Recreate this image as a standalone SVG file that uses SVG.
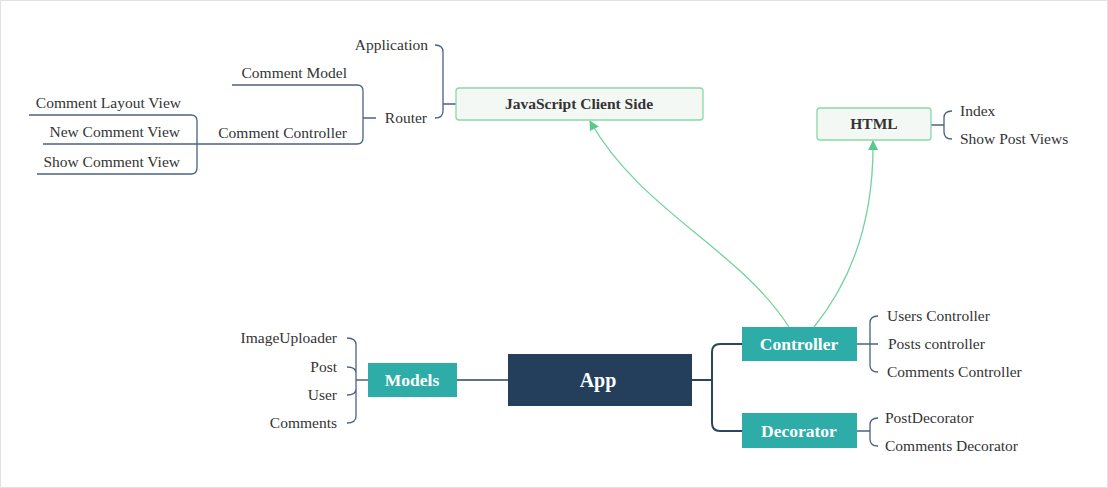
<svg xmlns="http://www.w3.org/2000/svg" width="1108" height="488" viewBox="0 0 1108 488">
<defs>
<style>
.t{font-family:"Liberation Serif","Times New Roman",serif;font-size:15.5px;fill:#333}
.r{text-anchor:end}
.nb{font-family:"Liberation Serif","Times New Roman",serif;font-weight:bold;text-anchor:middle}
.light{fill:#f3f8f4;stroke:#8ad8a8;stroke-width:1.3}
.teal{fill:#2eaca7}
.br{fill:none;stroke:#4b6382;stroke-width:1.3}
.main{fill:none;stroke:#2a4560;stroke-width:2}
.rel{fill:none;stroke:#72d39c;stroke-width:1.3}
</style>
<marker id="ah" markerWidth="10" markerHeight="10" viewBox="0 0 10 10" refX="9" refY="5" orient="auto" markerUnits="userSpaceOnUse">
<path d="M0,0 L10,5 L0,10 Z" fill="#5cc98c"/>
</marker>
</defs>
<rect x="0.5" y="0.5" width="1107" height="487" fill="#fff" stroke="#e2e2e2"/>

<g id="connectors">
<!-- JS client side bracket -->
<path class="br" d="M435,45 Q443,45 443,52 L443,111 Q443,118 435,118 M443,104 L456,104"/>
<!-- Router bracket -->
<path class="br" d="M232,85 L357,85 Q363,85 363,91 L363,138 Q363,144 357,144 L43,144 M363,118 L376,118"/>
<!-- Comment Controller bracket -->
<path class="br" d="M29,115 L191,115 Q197,115 197,121 L197,168 Q197,174 191,174 L37,174"/>
<!-- HTML bracket -->
<path class="br" d="M931,125 L944,125 M952,111 Q944,111 944,118 L944,132 Q944,139 952,139"/>
<!-- Models bracket -->
<path class="br" d="M347,338 Q356,338 356,345 L356,416 Q356,423 347,423 M347,367 Q356,367 356,373 M347,395 Q356,395 356,389 M356,380 L368,380"/>
<!-- App to Models -->
<path class="main" style="stroke-width:1.5" d="M457,380 L508,380"/>
<!-- App to Controller/Decorator -->
<path class="main" d="M692,380 L712,380 M742,344 L720,344 Q712,344 712,352 L712,423 Q712,431 720,431 L742,431"/>
<!-- Controller bracket -->
<path class="br" d="M857,344 L878,344 M878,316 Q870,316 870,323 L870,365 Q870,372 878,372"/>
<!-- Decorator bracket -->
<path class="br" d="M857,431 L870,431 M878,418 Q870,418 870,425 L870,439 Q870,446 878,446"/>
<!-- relationships -->
<path class="rel" d="M789,327 C740,250 640,210 590,121" marker-end="url(#ah)"/>
<path class="rel" d="M814,327 C852,280 874,220 873,141" marker-end="url(#ah)"/>
</g>

<g id="node-js">
<rect class="light" x="456" y="88" width="247" height="32" rx="3"/>
<text class="nb" x="579" y="109" style="font-size:15.5px;fill:#333">JavaScript Client Side</text>
</g>
<g id="node-application"><text class="t r" x="428" y="50">Application</text></g>
<g id="node-router"><text class="t r" x="427" y="123">Router</text></g>
<g id="node-comment-model"><text class="t r" x="347" y="78">Comment Model</text></g>
<g id="node-comment-controller"><text class="t r" x="347" y="138">Comment Controller</text></g>
<g id="node-comment-layout-view"><text class="t r" x="181" y="108">Comment Layout View</text></g>
<g id="node-new-comment-view"><text class="t r" x="180" y="137">New Comment View</text></g>
<g id="node-show-comment-view"><text class="t r" x="180" y="167">Show Comment View</text></g>

<g id="node-html">
<rect class="light" x="817" y="108" width="114" height="32" rx="3"/>
<text class="nb" x="874" y="129" style="font-size:15.5px;fill:#333">HTML</text>
</g>
<g id="node-index"><text class="t" x="960" y="116">Index</text></g>
<g id="node-show-post-views"><text class="t" x="960" y="144">Show Post Views</text></g>

<g id="node-app">
<rect x="508" y="354" width="184" height="52" fill="#233f5c"/>
<text class="nb" x="598" y="387" style="font-size:20px;fill:#fff">App</text>
</g>
<g id="node-models">
<rect class="teal" x="368" y="363" width="89" height="34"/>
<text class="nb" x="412" y="386" style="font-size:17.5px;fill:#fff">Models</text>
</g>
<g id="node-imageuploader"><text class="t r" x="337" y="343">ImageUploader</text></g>
<g id="node-post"><text class="t r" x="337" y="372">Post</text></g>
<g id="node-user"><text class="t r" x="337" y="400">User</text></g>
<g id="node-comments"><text class="t r" x="337" y="428">Comments</text></g>

<g id="node-controller">
<rect class="teal" x="742" y="327" width="115" height="34"/>
<text class="nb" x="799" y="350" style="font-size:17.5px;fill:#fff">Controller</text>
</g>
<g id="node-users-controller"><text class="t" x="887" y="321">Users Controller</text></g>
<g id="node-posts-controller"><text class="t" x="888" y="349">Posts controller</text></g>
<g id="node-comments-controller"><text class="t" x="887" y="377">Comments Controller</text></g>

<g id="node-decorator">
<rect class="teal" x="742" y="413" width="115" height="35"/>
<text class="nb" x="799" y="437" style="font-size:17.5px;fill:#fff">Decorator</text>
</g>
<g id="node-postdecorator"><text class="t" x="885" y="423">PostDecorator</text></g>
<g id="node-comments-decorator"><text class="t" x="885" y="451">Comments Decorator</text></g>
</svg>
